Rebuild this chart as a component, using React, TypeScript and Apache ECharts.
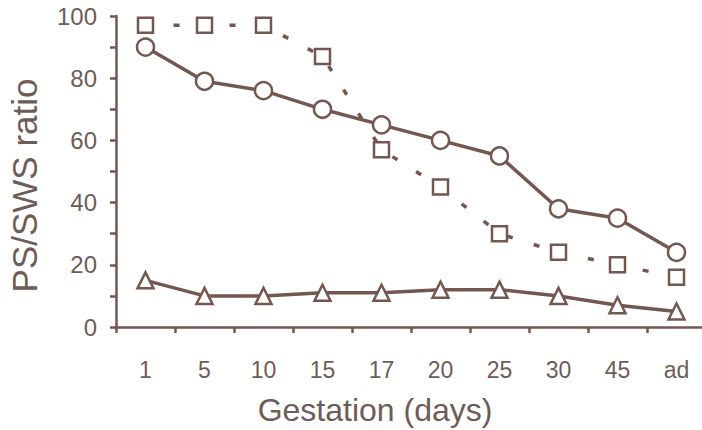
import React, { useEffect, useRef } from "react";
import * as echarts from "echarts";

const categories = ["1", "5", "10", "15", "17", "20", "25", "30", "45", "ad"];
const circleValues = [90, 79, 76, 70, 65, 60, 55, 38, 35, 24];
const squareValues = [97, 97, 97, 87, 57, 45, 30, 24, 20, 16];
const triangleValues = [15, 10, 10, 11, 11, 12, 12, 10, 7, 5];

const BROWN = "#735750";
const TEXT = "#6e5c57";

export default function App() {
  const ref = useRef<HTMLDivElement>(null);
  useEffect(() => {
    if (!ref.current) return;
    document.body.style.margin = "0";
    document.body.style.overflow = "hidden";
    const chart = echarts.init(ref.current, undefined, { renderer: "svg" });
    chart.setOption({
      animation: false,
      backgroundColor: "#ffffff",
      textStyle: { fontFamily: "Liberation Sans, Arial, sans-serif" },
      grid: {
        left: 116,
        top: 16,
        bottom: 103,
        width: 590,
        containLabel: false,
        outerBoundsMode: "none",
      },
      xAxis: {
        type: "category",
        data: categories,
        boundaryGap: true,
        name: "Gestation (days)",
        nameLocation: "middle",
        nameGap: 67,
        nameTextStyle: { fontSize: 32, color: TEXT, padding: [0, 72, 0, 0] },
        axisLine: { lineStyle: { color: BROWN, width: 2.5 } },
        axisTick: { show: true, length: 6, inside: false, alignWithLabel: false, lineStyle: { color: BROWN, width: 2.5 } },
        axisLabel: { fontSize: 23, color: TEXT, margin: 31 },
        splitLine: { show: false },
      },
      yAxis: {
        type: "value",
        min: 0,
        max: 100,
        interval: 10,
        name: "PS/SWS ratio",
        nameLocation: "middle",
        nameGap: 74,
        nameRotate: 90,
        nameTextStyle: { fontSize: 35, color: TEXT, padding: [0, 28, 0, 0] },
        axisLine: { show: true, lineStyle: { color: BROWN, width: 2.5 } },
        axisTick: { show: true, length: 6, inside: false, lineStyle: { color: BROWN, width: 2.5 } },
        axisLabel: {
          fontSize: 24,
          color: TEXT,
          margin: 19,
          padding: [6, 0, 0, 0],
          formatter: (v: number) => (v % 20 === 0 ? String(v) : ""),
        },
        splitLine: { show: false },
      },
      series: [
        {
          type: "line",
          data: squareValues,
          symbol: "rect",
          symbolSize: 15,
          lineStyle: { color: BROWN, width: 3.5, type: [6, 22] },
          itemStyle: { color: "#ffffff", borderColor: BROWN, borderWidth: 2.5 },
          z: 2,
        },
        {
          type: "line",
          data: circleValues,
          symbol: "circle",
          symbolSize: 17,
          lineStyle: { color: BROWN, width: 3.5 },
          itemStyle: { color: "#ffffff", borderColor: BROWN, borderWidth: 2.5 },
          z: 3,
        },
        {
          type: "line",
          data: triangleValues,
          symbol: "triangle",
          symbolSize: 16,
          lineStyle: { color: BROWN, width: 3.5 },
          itemStyle: { color: "#ffffff", borderColor: BROWN, borderWidth: 2.5 },
          z: 4,
        },
      ],
    });
    return () => chart.dispose();
  }, []);
  return <div ref={ref} style={{ width: 702, height: 430, position: "absolute", left: 0, top: 0 }} />;
}
